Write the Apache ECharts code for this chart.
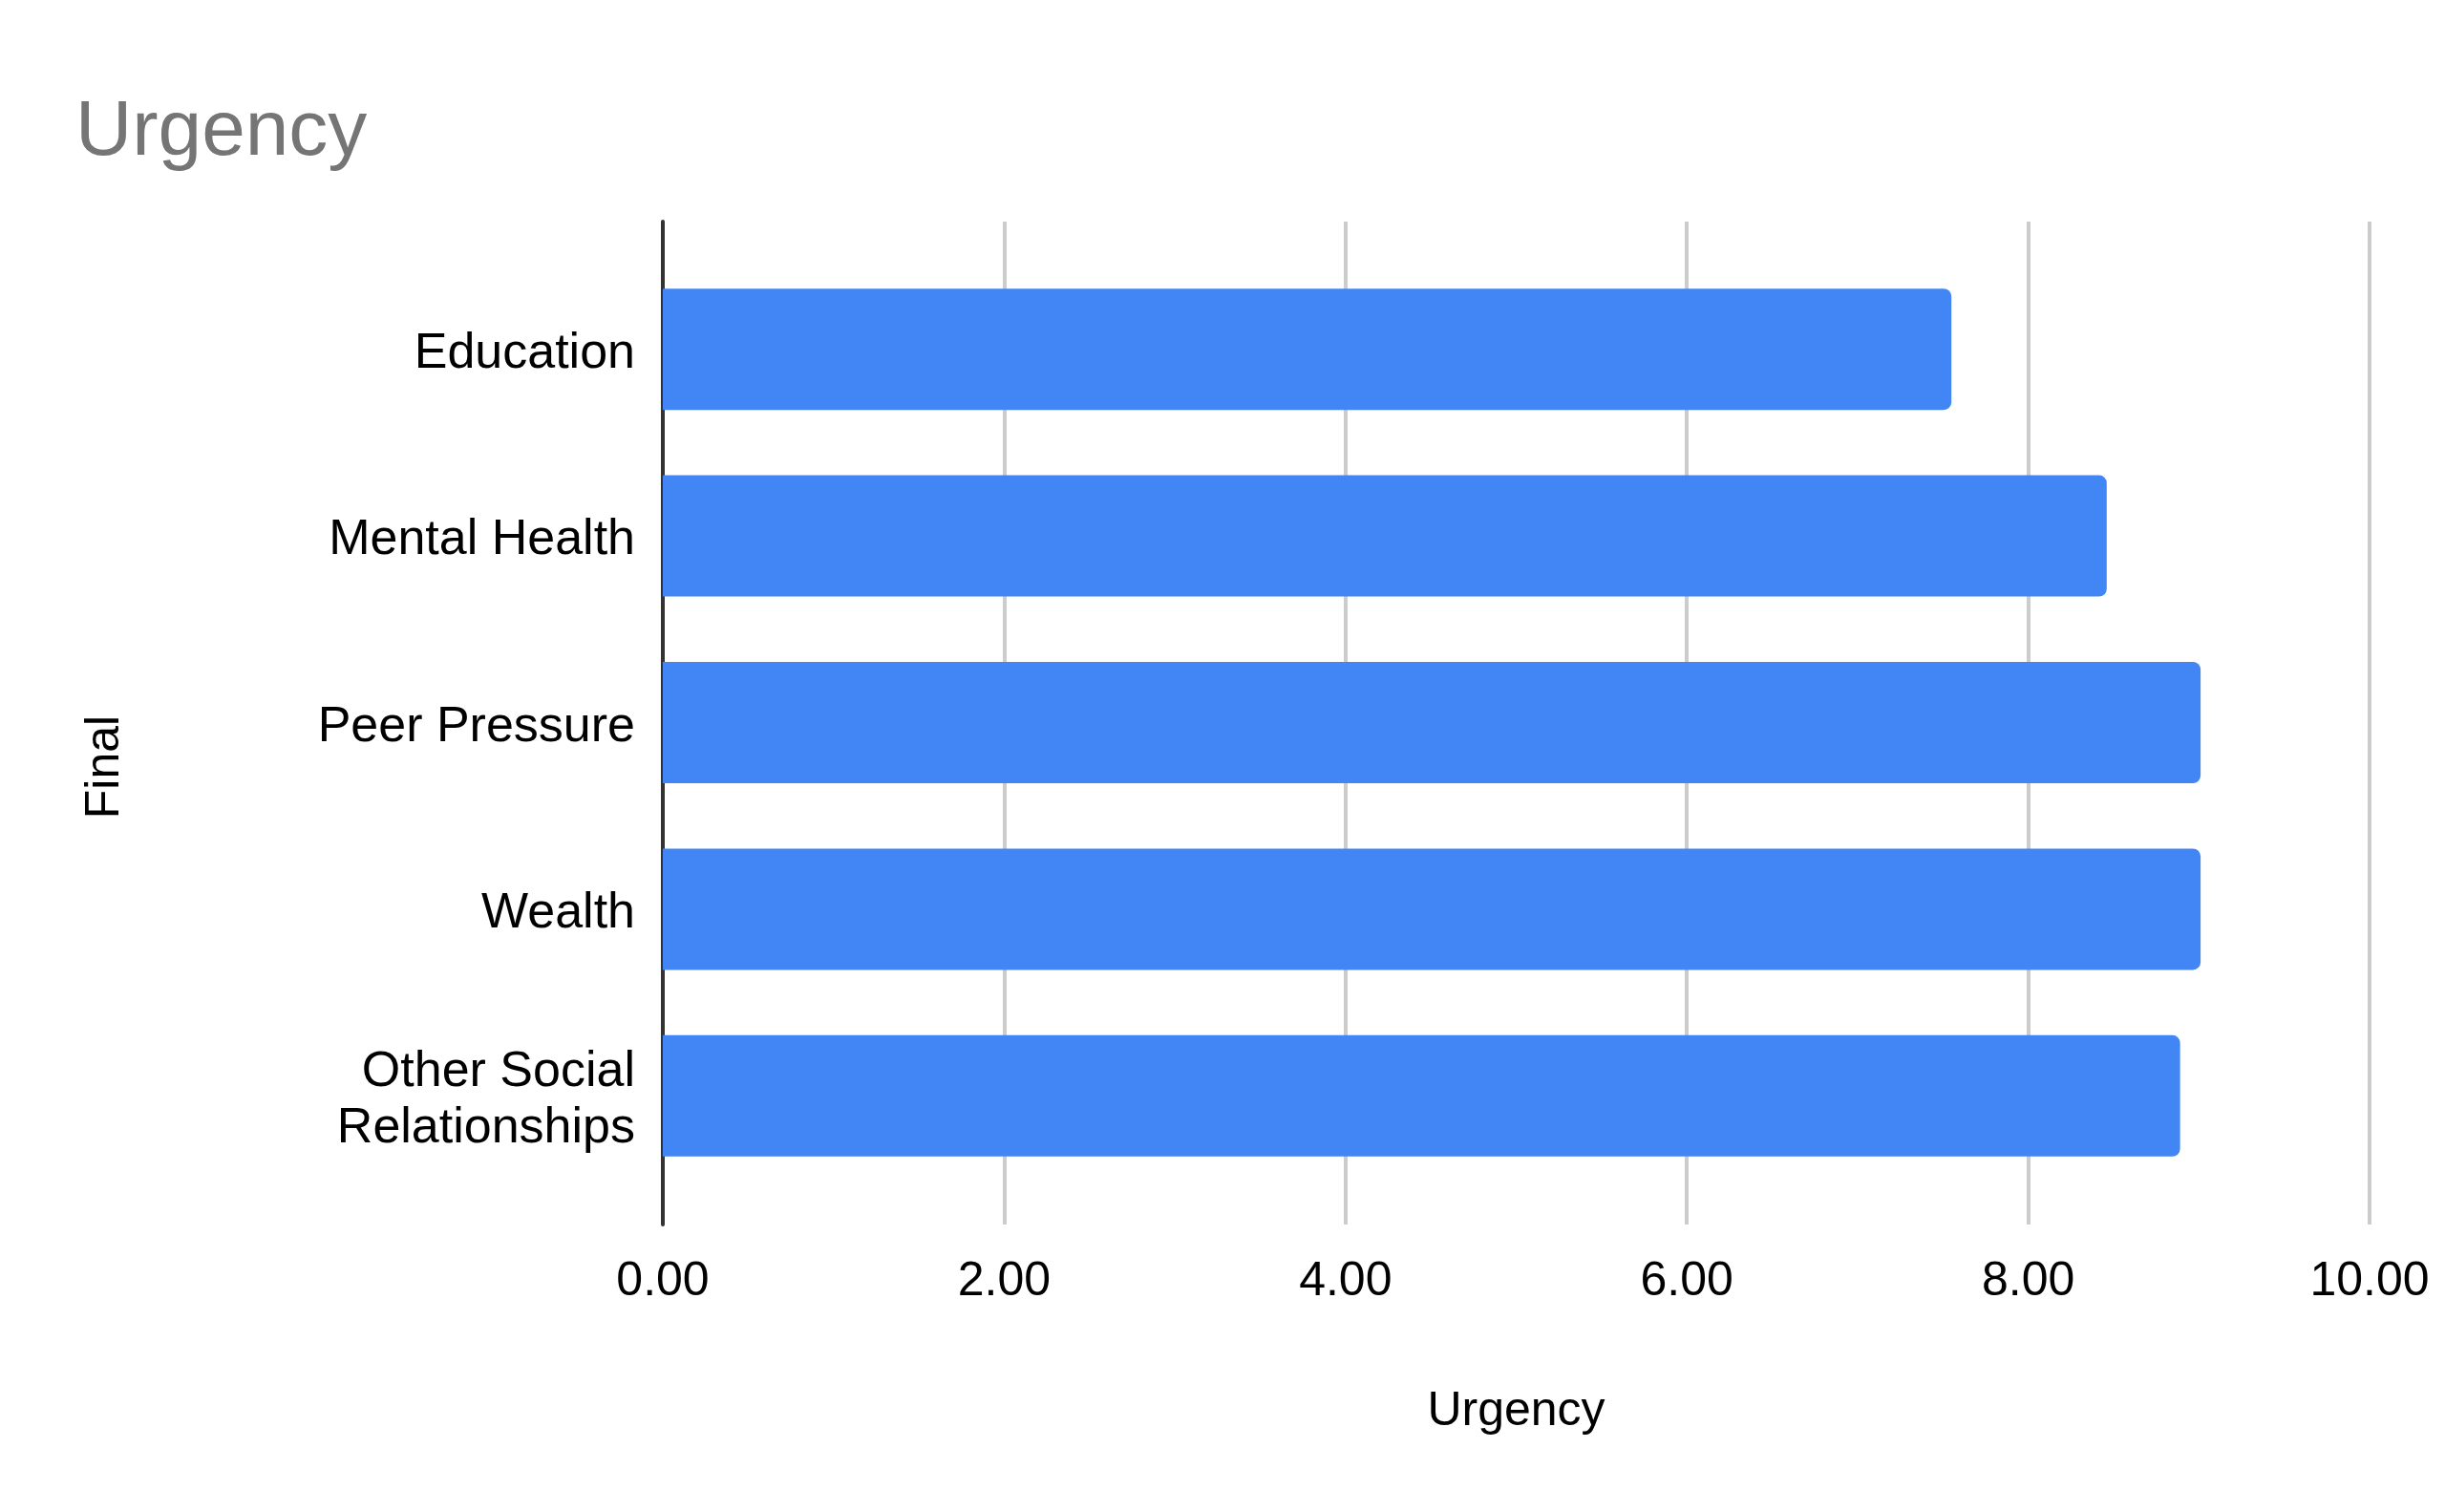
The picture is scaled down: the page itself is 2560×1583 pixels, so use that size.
<!DOCTYPE html>
<html>
<head>
<meta charset="utf-8">
<title>Urgency</title>
<script src="https://cdn.jsdelivr.net/npm/echarts@6/dist/echarts.min.js"></script>
<style>
  html, body { margin: 0; padding: 0; background: #fff; }
  #chart { width: 2560px; height: 1583px; }
</style>
</head>
<body>
<div id="chart"></div>
<script>
var categories = ['Education', 'Mental Health', 'Peer Pressure', 'Wealth', 'Other Social\nRelationships'];
var urgency = [7.55, 8.46, 9.01, 9.01, 8.89];
var xTicks = [0, 2, 4, 6, 8, 10];

var font = '"Liberation Sans", Arial, sans-serif';
var chart = echarts.init(document.getElementById('chart'));

var option = {
    backgroundColor: '#ffffff',
    animation: false,
    title: {
        text: 'Urgency',
        left: 74,
        top: 93,
        textStyle: { fontFamily: font, fontSize: 82, fontWeight: 'normal', color: '#757575' }
    },
    // grid 0: axis line + gridlines, grid 1: bars, grid 2: category labels (a bit lower)
    grid: [
        { left: 694, right: 79, top: 232, bottom: 301 },
        { left: 694, right: 79, top: 268, bottom: 338 },
        { left: 694, right: 79, top: 273, bottom: 333 }
    ],
    xAxis: [
        {
            gridIndex: 0,
            type: 'value',
            min: xTicks[0],
            max: xTicks[xTicks.length - 1],
            interval: 2,
            name: 'Urgency',
            nameLocation: 'middle',
            nameGap: 171,
            nameTextStyle: { fontFamily: font, fontSize: 50, color: '#000' },
            axisLine: { show: false },
            axisTick: { show: false },
            axisLabel: {
                margin: 35,
                fontFamily: font,
                fontSize: 50,
                color: '#000',
                formatter: function (v) { return v.toFixed(2); }
            },
            splitLine: { show: true, lineStyle: { color: '#cccccc', width: 4 } }
        },
        { gridIndex: 1, type: 'value', min: 0, max: 10, show: false },
        { gridIndex: 2, type: 'value', min: 0, max: 10, show: false }
    ],
    yAxis: [
        {
            gridIndex: 0,
            type: 'value',
            min: 0,
            max: 1,
            axisLine: { show: true, lineStyle: { color: '#333333', width: 4 } },
            axisTick: { show: false },
            axisLabel: { show: false },
            splitLine: { show: false }
        },
        {
            gridIndex: 1,
            type: 'category',
            inverse: true,
            data: categories,
            show: false
        },
        {
            gridIndex: 2,
            type: 'category',
            inverse: true,
            data: categories,
            axisLine: { show: false },
            axisTick: { show: false },
            axisLabel: {
                margin: 29,
                fontFamily: font,
                fontSize: 52,
                lineHeight: 59,
                color: '#000'
            },
            splitLine: { show: false }
        }
    ],
    graphic: [
        {
            type: 'text',
            x: 110,
            y: 803,
            rotation: Math.PI / 2,
            style: {
                text: 'Final',
                font: '50px ' + font,
                fill: '#000',
                textAlign: 'center',
                textVerticalAlign: 'middle'
            }
        }
    ],
    series: [
        {
            type: 'bar',
            xAxisIndex: 1,
            yAxisIndex: 1,
            data: urgency,
            barWidth: 127,
            itemStyle: { color: '#4285f4', borderRadius: [0, 8, 8, 0] }
        }
    ]
};

chart.setOption(option);
</script>
</body>
</html>
